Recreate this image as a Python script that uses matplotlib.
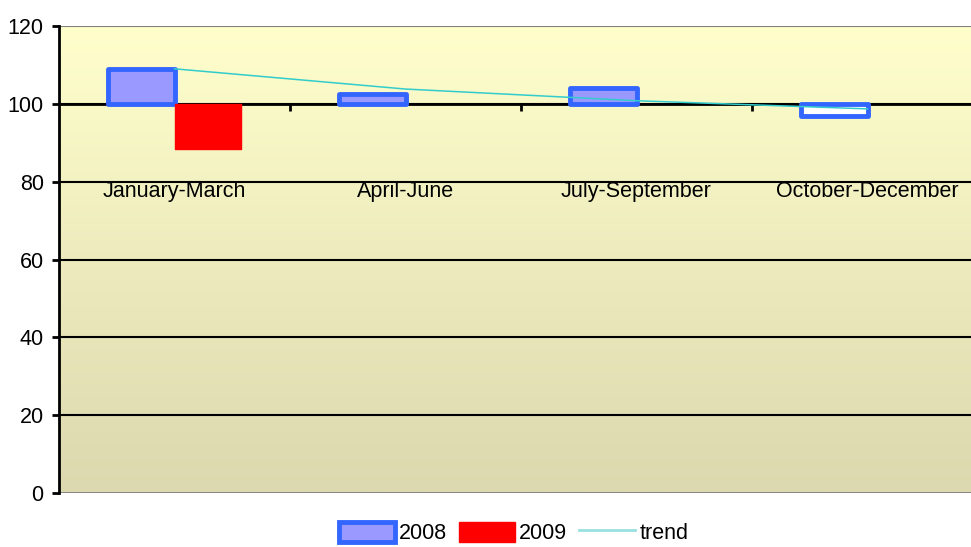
import numpy as np
import matplotlib
matplotlib.use('Agg')
import matplotlib.pyplot as plt
from matplotlib.patches import Patch
from matplotlib.lines import Line2D

plt.rcParams['font.family'] = ['Liberation Sans', 'DejaVu Sans']

categories = ['January-March', 'April-June', 'July-September', 'October-December']
values_2008 = [109.0, 102.6, 104.0, 97.0]
values_2009 = [88.3, None, None, None]
trend = [109.0, 103.8, 100.8, 98.7]
BASE = 100

BLUE_EDGE = '#3366FF'
BLUE_FILL = '#9999FF'
RED = '#FF0000'
TREND = '#33CCCC'
FS = 15.5

fig = plt.figure(figsize=(9.71, 5.47), dpi=100)
ax = fig.add_axes([59 / 971, 1 - 493 / 547, 924 / 971, 467 / 547])

# gradient background
grad = np.linspace(0, 1, 256).reshape(-1, 1)
top = np.array([255, 255, 204]) / 255
bot = np.array([220, 216, 175]) / 255
img = top + (bot - top) * grad[:, :, None]
ax.imshow(img, extent=[-0.5, 3.5, 0, 120], aspect='auto', zorder=0)

ax.set_xlim(-0.5, 3.5)
ax.set_ylim(0, 120)

# gridlines
for y in range(20, 120, 20):
    ax.axhline(y, color='black', lw=1.5, zorder=1)
ax.axhline(0, color='#808080', lw=2, zorder=1)
ax.axhline(120, color='#808080', lw=1.5, zorder=1)

x = np.arange(len(categories))
w = 0.286
fills_2008 = [BLUE_FILL if v >= BASE else 'white' for v in values_2008]
ax.bar(x - w / 2, [v - BASE for v in values_2008], width=w, bottom=BASE,
       color=fills_2008, edgecolor=BLUE_EDGE, linewidth=3.5, joinstyle='round', zorder=3)
idx9 = [i for i, v in enumerate(values_2009) if v is not None]
ax.bar(x[idx9] + w / 2, [values_2009[i] - BASE for i in idx9], width=w, bottom=BASE,
       color=RED, edgecolor=RED, linewidth=1, joinstyle='round', zorder=3)

ax.plot(x, trend, color=TREND, lw=1.1, zorder=4)

# category axis at 100
for s in ['top', 'right']:
    ax.spines[s].set_visible(False)
ax.spines['bottom'].set_position(('data', BASE))
ax.spines['bottom'].set_linewidth(2)
ax.spines['left'].set_linewidth(2)
ax.set_xticks([0.5, 1.5, 2.5, 3.5])
ax.set_xticklabels([])
ax.tick_params(axis='x', direction='out', length=5, width=2)
ax.tick_params(axis='y', direction='out', length=5, width=2, labelsize=FS, pad=6)
ax.set_yticks(range(0, 121, 20))

for i, c in enumerate(categories):
    ax.text(i, 77.6, c, ha='center', va='center', fontsize=FS, zorder=5)

handles = [Patch(facecolor=BLUE_FILL, edgecolor=BLUE_EDGE, linewidth=3.5, joinstyle='round'),
           Patch(facecolor=RED, edgecolor=RED, linewidth=1),
           Line2D([], [], color='#99E0E0', lw=2)]
fig.legend(handles, ['2008', '2009', 'trend'], loc='lower center', ncol=3,
           bbox_to_anchor=(0.529, -0.03), frameon=False, fontsize=FS,
           handlelength=2.6, handleheight=1.05, handletextpad=0.2, columnspacing=0.55)

fig.savefig('out.png', dpi=100)
